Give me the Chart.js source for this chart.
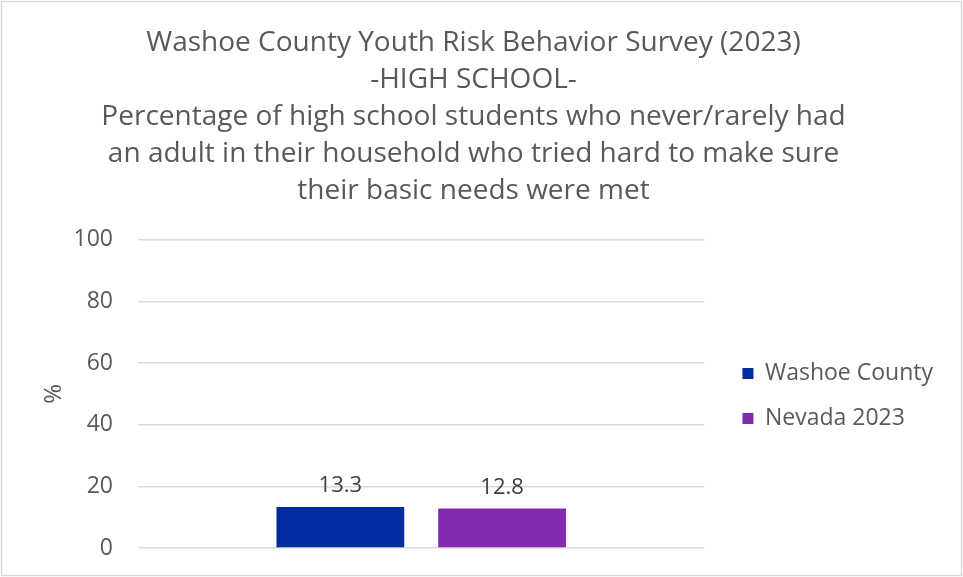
<!DOCTYPE html>
<html>
<head>
<meta charset="utf-8">
<title>Washoe County YRBS 2023 - High School</title>
<script src="https://cdn.jsdelivr.net/npm/chart.js@4/dist/chart.umd.min.js"></script>
<style>
  html, body { margin: 0; padding: 0; background: #ffffff; }
  #wrap { width: 963px; height: 577px; position: relative; }
</style>
</head>
<body>
<div id="wrap"><canvas id="chart" width="963" height="577"></canvas></div>
<script>
// Survey values (% of high school students)
const categories = [''];
const seriesNames = ['Washoe County', 'Nevada 2023'];
const washoeValues = [13.3];
const nevadaValues = [12.8];
const seriesColors = ['#032CA0', '#8529B0'];
const titleLines = [
  'Washoe County Youth Risk Behavior Survey (2023)',
  '-HIGH SCHOOL-',
  'Percentage of high school students who never/rarely had',
  'an adult in their household who tried hard to make sure',
  'their basic needs were met'
];
const yTicks = { min: 0, max: 100, step: 20 };

const FONT = '"Open Sans", "Noto Sans", sans-serif';
const TEXT = '#595959';

// white page with a thin frame around the chart
const framePlugin = {
  id: 'frame',
  beforeDraw(chart) {
    const { ctx, width, height } = chart;
    ctx.save();
    ctx.fillStyle = '#ffffff';
    ctx.fillRect(0, 0, width, height);
    ctx.strokeStyle = '#d9d9d9';
    ctx.lineWidth = 1.5;
    ctx.strokeRect(1.5, 1.5, width - 3, height - 3);
    ctx.restore();
  }
};

// legend sits a little away from the plot and is centred on it vertically
const legendPlacement = {
  id: 'legendPlacement',
  afterLayout(chart) {
    const lg = chart.legend;
    const area = chart.chartArea;
    if (!lg) return;
    const shift = 16;
    lg.left += shift;
    lg.right += shift;
    lg.top = area.top + 2;
    lg.bottom = area.bottom + 2;
    lg.height = area.bottom - area.top;
  }
};

// value labels above each bar
const valueLabels = {
  id: 'valueLabels',
  afterDatasetsDraw(chart) {
    const { ctx } = chart;
    ctx.save();
    ctx.font = '22px ' + FONT;
    ctx.fillStyle = '#404040';
    ctx.textAlign = 'center';
    ctx.textBaseline = 'bottom';
    chart.data.datasets.forEach((ds, i) => {
      const meta = chart.getDatasetMeta(i);
      meta.data.forEach((bar, j) => {
        ctx.fillText(ds.data[j].toFixed(1), bar.x, bar.y - 10);
      });
    });
    ctx.restore();
  }
};

new Chart(document.getElementById('chart'), {
  type: 'bar',
  data: {
    labels: categories,
    datasets: [
      { label: seriesNames[0], data: washoeValues, backgroundColor: seriesColors[0] },
      { label: seriesNames[1], data: nevadaValues, backgroundColor: seriesColors[1] }
    ]
  },
  plugins: [framePlugin, legendPlacement, valueLabels],
  options: {
    responsive: false,
    animation: false,
    layout: { padding: { top: 0, left: 20, right: 36, bottom: 29 } },
    datasets: { bar: { categoryPercentage: 0.571, barPercentage: 0.79 } },
    plugins: {
      title: {
        display: true,
        text: titleLines,
        color: TEXT,
        font: { family: FONT, size: 28, weight: 'normal', lineHeight: 1.32 },
        padding: { top: 24.5, bottom: 30.5 }
      },
      legend: {
        position: 'right',
        align: 'center',
        labels: {
          color: TEXT,
          font: { family: FONT, size: 23 },
          boxWidth: 11,
          boxHeight: 11,
          padding: 22
        }
      },
      tooltip: { enabled: false }
    },
    scales: {
      x: {
        display: false
      },
      y: {
        min: yTicks.min,
        max: yTicks.max,
        afterFit(scale) { scale.width = 118; },
        ticks: {
          stepSize: yTicks.step,
          color: TEXT,
          font: { family: FONT, size: 23 },
          padding: 0
        },
        grid: {
          color: '#d9d9d9',
          lineWidth: 1.5,
          drawTicks: true,
          tickLength: 25,
          tickColor: 'rgba(0,0,0,0)'
        },
        border: { display: false },
        title: {
          display: true,
          text: '%',
          color: TEXT,
          font: { family: FONT, size: 24 },
          padding: { top: 20, bottom: 0 }
        }
      }
    }
  }
});
</script>
</body>
</html>
